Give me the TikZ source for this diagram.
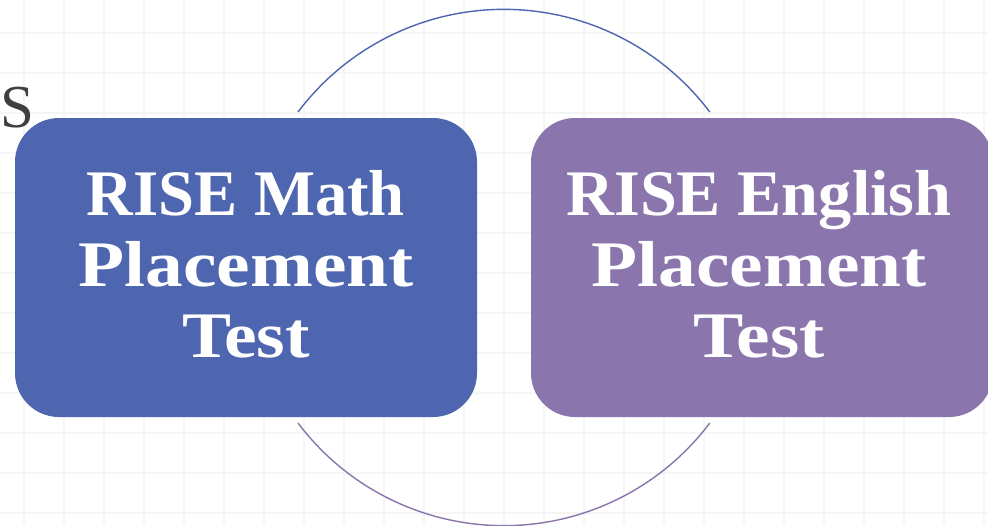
\documentclass[tikz,border=0pt]{standalone}
\usepackage{fontspec}
\setmainfont{Liberation Serif}
\definecolor{boxblue}{HTML}{4E66B0}
\definecolor{boxpurple}{HTML}{8A76AD}
\definecolor{gridgray}{HTML}{F5F5F5}
\definecolor{sgray}{HTML}{3F3F3F}
\newcommand{\wline}[2]{\scalebox{#1}[1]{#2}}
\tikzset{
  gridline/.style={draw=gridgray, line width=1.2pt},
  testbox/.style={rounded corners=44pt, minimum width=462pt, minimum height=299pt,
    inner sep=0pt},
  boxlabel/.style={inner sep=0pt, text=white, align=center, yshift=3pt,
    font=\bfseries\fontsize{65}{71}\selectfont},
  ring/.style={line width=1.4pt},
}
\begin{document}
\begin{tikzpicture}[x=1pt,y=-1pt]
\clip (0,0) rectangle (988,525);
\fill[white] (0,0) rectangle (988,525);
\foreach \x in {24,64,...,984} \draw[gridline] (\x,0) -- (\x,525);
\foreach \y in {33,73,...,513} \draw[gridline] (0,\y) -- (988,\y);
\coordinate (tl) at (298,112);
\coordinate (bl) at (298,423);
\draw[ring, draw=boxblue] (tl) arc[start angle=217, end angle=323, radius=257.8];
\draw[ring, draw=boxpurple] (bl) arc[start angle=143, end angle=37, radius=257.8];
\node[anchor=base west, inner sep=0pt, text=sgray, font=\fontsize{61}{70}\selectfont] (stext) at (0,127) {S};
\node[testbox, fill=boxblue] (math) at (246,267.5) {};
\node[testbox, fill=boxpurple] (english) at (762,267.5) {};
\node[boxlabel] (mathlbl) at (math.center) {\wline{0.995}{RISE Math}\\\wline{1.16}{Placement}\\\wline{1.13}{Test}};
\node[boxlabel, xshift=-3pt] (englbl) at (english.center) {\wline{1.02}{RISE English}\\\wline{1.16}{Placement}\\\wline{1.16}{Test}};
\end{tikzpicture}
\end{document}
